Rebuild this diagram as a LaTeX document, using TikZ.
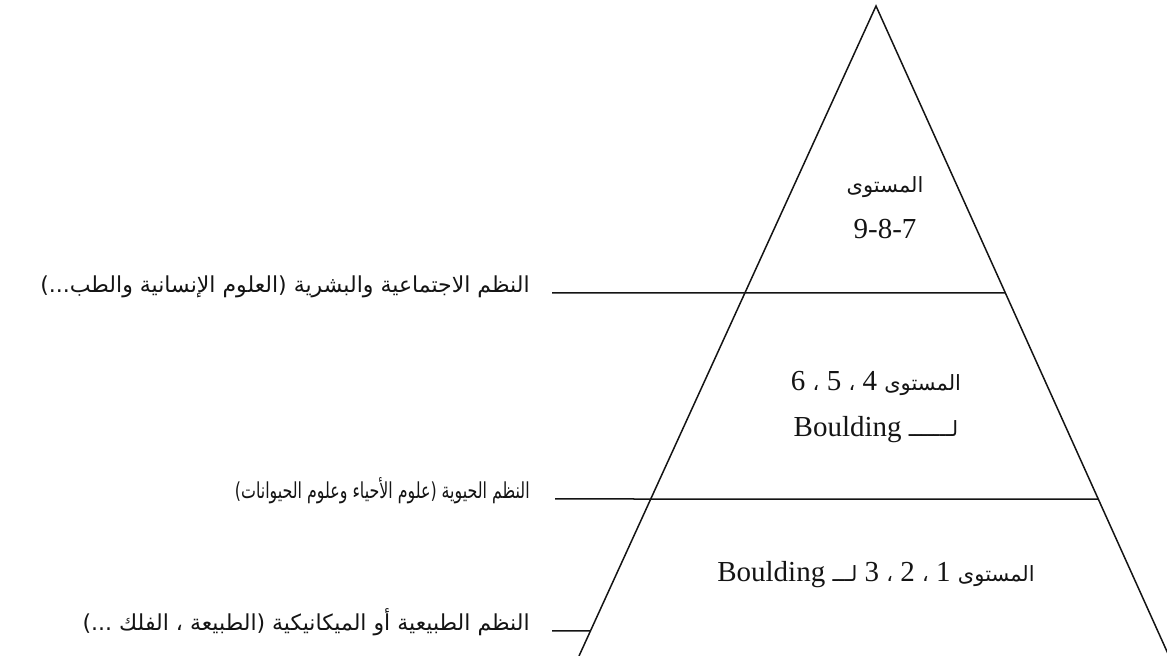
\documentclass[tikz,border=0pt]{standalone}
\usepackage{fontspec}
\usepackage{graphicx}
\setmainfont{Liberation Serif}
\newfontfamily\arabicfont[Script=Arabic]{DejaVu Sans}
\TeXXeTstate=1
\usetikzlibrary{calc,positioning}
\definecolor{PyrInk}{HTML}{141414}
\newcommand{\artext}[1]{{\arabicfont\fontsize{10.5}{12}\selectfont #1}}

\begin{document}
\begin{tikzpicture}[x=0.5pt,y=-0.5pt,
    edge/.style={PyrInk, line width=0.75pt},
    sidelab/.style={anchor=base east, inner sep=0pt, text=PyrInk,
                    font=\arabicfont\fontsize{11}{13}\selectfont},
    lvl/.style={align=center, text=PyrInk, font=\fontsize{14.5}{23}\selectfont}]
  \useasboundingbox (0,0) rectangle (1167,656);
  % pyramid sides, cut off by the page
  \coordinate (apex) at (876,6);
  \coordinate (baseL) at (579,656);
  \coordinate (baseR) at (1169,656);
  \draw[edge] (baseL) -- (apex) -- (baseR);
  % where the layer lines meet the sides
  \coordinate (cutA) at ($(apex)!0.4415!(baseR)$);
  \coordinate (cutB) at ($(apex)!0.7585!(baseR)$);
  \coordinate (cutC) at ($(apex)!0.9615!(baseL)$);
  \coordinate (socioL) at (552,293);
  \coordinate (bioL) at (555,499);
  \coordinate (physL) at (552,631);

  % systems on the left
  \node[sidelab] (socio) at (530,293)
    {\beginR النظم الاجتماعية والبشرية (العلوم الإنسانية والطب...)\endR};
  \node[sidelab] (bio) at (530,499)
    {\scalebox{0.72}[1]{\beginR النظم الحيوية (علوم الأحياء وعلوم الحيوانات)\endR}};
  \node[sidelab] (phys) at (530,631)
    {\beginR النظم الطبيعية أو الميكانيكية (الطبيعة ، الفلك ...)\endR};
  \draw[edge] (socioL) -- (cutA);
  \draw[edge] (bioL) -- (cutB);
  \draw[edge] (physL) -- (cutC);

  % levels inside the pyramid
  \node[lvl] (topLvl) at (885,208)
    {\beginR\artext{المستوى}\endR\\9-8-7};
  \node[lvl] (midLvl) at (876,407)
    {\beginR\artext{المستوى} 4 \artext{،} 5 \artext{،} 6\endR\\
     \beginR\artext{لـــــــ} \beginL Boulding\endL\endR};
  \node[lvl] (lowLvl) at (876,575)
    {\beginR\artext{المستوى} 1 \artext{،} 2 \artext{،} 3 \artext{لـــ} \beginL Boulding\endL\endR};
\end{tikzpicture}
\end{document}
